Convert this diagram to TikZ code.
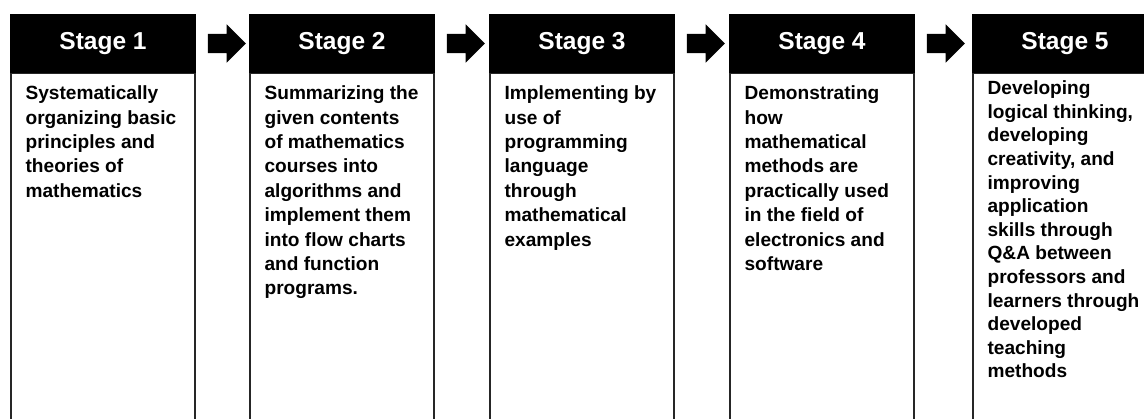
\documentclass[tikz,border=0pt]{standalone}
\usepackage{fontspec}
\setmainfont{Liberation Sans}
\usetikzlibrary{positioning,shapes.arrows}

\tikzstyle{stagehead}=[fill=black,draw=black,line width=1.2pt,text=white,font=\bfseries\fontsize{24.5}{28}\selectfont,minimum width=184pt,minimum height=57pt,inner sep=0pt]
\tikzstyle{stagebox}=[draw=black!85,line width=1.2pt,minimum width=184pt,minimum height=360pt,inner sep=0pt]
\tikzstyle{stagetext}=[anchor=north west,align=left,inner xsep=15pt,inner ysep=13pt,font=\bfseries\fontsize{19.1}{24.4}\selectfont]
\tikzstyle{steparrow}=[single arrow,fill=black,minimum height=38pt,inner xsep=0pt,inner ysep=9.5pt,single arrow head extend=9.5pt]

\begin{document}
\begin{tikzpicture}[x=1pt,y=-1pt]
	\useasboundingbox (0,0) rectangle (1144,418);
	\clip (0,0) rectangle (1144,418);
	%headers
	\foreach \i/\x in {1/103,2/342,3/582,4/822,5/1065}
	\node[stagehead] (head\i) at (\x,43.5) {Stage \i};
	%boxes
	\foreach \i in {1,...,5}
	\node[stagebox,below=0pt of head\i] (box\i) {};
	%arrows
	\foreach \i in {1,...,4}
	\node[steparrow,right=12pt of head\i] (arrow\i) {};
	%texts
	\node[stagetext] (text1) at (box1.north west)
	{Systematically\\organizing basic\\principles and\\theories of\\mathematics};
	\node[stagetext] (text2) at (box2.north west)
	{Summarizing the\\given contents\\of mathematics\\courses into\\algorithms and\\implement them\\into flow charts\\and function\\programs.};
	\node[stagetext] (text3) at (box3.north west)
	{Implementing by\\use of\\programming\\language\\through\\mathematical\\examples};
	\node[stagetext] (text4) at (box4.north west)
	{Demonstrating\\how\\mathematical\\methods are\\practically used\\in the field of\\electronics and\\software};
	\node[stagetext,inner ysep=8pt,font=\bfseries\fontsize{19.1}{23.6}\selectfont] (text5) at (box5.north west)
	{Developing\\logical thinking,\\developing\\creativity, and\\improving\\application\\skills through\\Q\&A between\\professors and\\learners through\\developed\\teaching\\methods};
\end{tikzpicture}
\end{document}
